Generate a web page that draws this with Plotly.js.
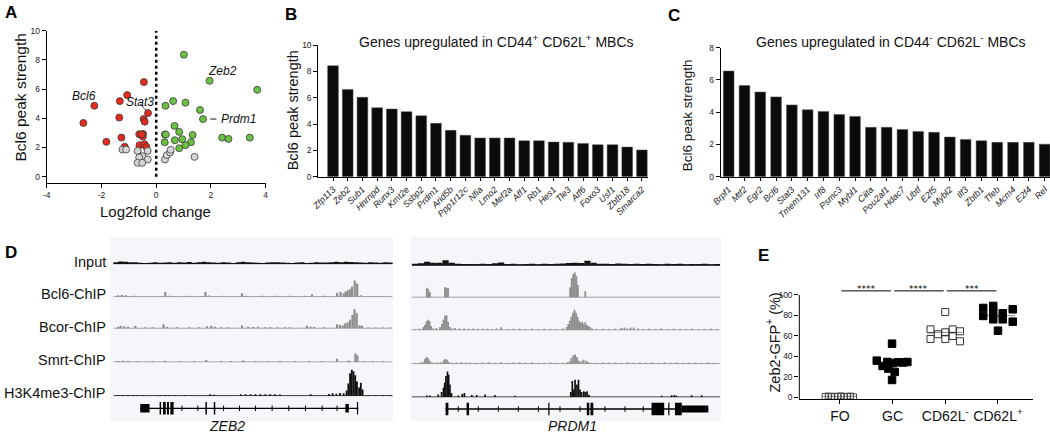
<!DOCTYPE html>
<html><head><meta charset="utf-8">
<script src="https://cdn.plot.ly/plotly-3.0.1.min.js"></script>
<style>html,body{margin:0;padding:0;background:#fff;}#chart{width:1050px;height:437px;}</style>
</head><body><div id="chart"></div>
<script>
// ---------- Panel A data ----------
const redX = [-2.66,-2.26,-1.82,-1.33,-1.35,-1.27,-1.06,-1.15,-0.45,-0.30,-0.46,-0.42,-0.62,-0.48,-0.49,-0.61,-0.43,-0.36,-0.53];
const redY = [3.68,4.86,2.39,5.18,4.05,2.68,5.59,2.05,6.48,4.36,3.95,3.77,2.91,2.93,2.75,2.16,2.23,2.05,2.90];
const greenX = [1.01,1.95,3.69,0.34,0.62,1.07,1.60,1.71,0.67,0.84,0.32,0.35,0.31,0.68,0.95,1.33,1.27,1.07,0.84,2.41,2.64,3.42];
const greenY = [8.36,6.57,5.95,4.86,5.18,5.07,4.57,3.95,3.48,3.07,2.89,2.89,2.36,2.50,2.57,2.86,2.36,2.16,1.95,2.68,2.59,2.68];
const greyX = [-1.23,-1.10,-0.68,-0.31,-0.50,-0.62,-0.31,-0.68,-0.51,0.32,0.39,0.51,0.53,1.40];
const greyY = [1.86,1.86,1.77,1.77,1.41,1.32,1.18,0.95,0.95,1.18,1.48,1.66,1.84,1.36];
const aXTicks = [-4,-2,0,2,4];
const aXTickText = ['-4','-2','0','2','4'];
const aYTicks = [0,2,4,6,8,10];
const aLabels = ['Bcl6','Stat3','Zeb2','Prdm1'];
const aLabelX = [-2.65,-0.58,2.44,2.28];
const aLabelY = [5.53,5.14,7.26,3.95];

// ---------- Panel B data ----------
const bGenes = ['Zfp113','Zeb2','Sub1','Hnrnpd','Runx3','Kmt2e','Ssbp2','Prdm1','Arid5b','Ppp1r12c','Nfia','Lmo2','Mef2a','Aff1','Rb1','Hes1','Tle3','Atf6','Foxo3','Usf1','Zbtb18','Smarca2'];
const bVals = [8.43,6.63,6.03,5.24,5.14,4.94,4.63,4.05,3.52,3.14,2.94,2.94,2.94,2.73,2.73,2.63,2.61,2.53,2.43,2.43,2.25,2.03];

// ---------- Panel C data ----------
const cGenes = ['Brpf1','Mtf2','Egr2','Bcl6','Stat3','Tmem131','Irf8','Psmc3','Mybl1','Ciita','Pou2af1','Hdac7','Ubtf','E2f5','Mybl2','Ilf3','Zbtb1','Tfeb','Mcm4','E2f4','Rel'];
const cVals = [6.55,5.65,5.25,4.95,4.45,4.15,4.05,3.86,3.74,3.06,3.06,2.93,2.81,2.75,2.46,2.31,2.23,2.13,2.13,2.13,2.02];

// ---------- Panel D data (coverage tracks) ----------
const trackNames = ['Input','Bcl6-ChIP','Bcor-ChIP','Smrt-ChIP','H3K4me3-ChIP'];
const zebInput = [1.5,2.2,1.8,1.5,1.4,1.0,0.3,1.0,1.4,1.0,1.2,1.5,1.0,1.4,1.2,1.6,1.0,1.5,1.8,1.4,1.2,1.0,1.4,1.2,0.3,1.5,1.8,1.5,1.2,1.0,0.3,1.2,1.5,1.4,1.2,1.0,0.3,1.2,1.5,0.3,1.0,1.4,1.2,1.2,1.5,1.8,1.5,2.0,1.6,1.5,1.2,1.0,1.4,1.2,1.0,1.3,1.1];
const zebBcl6Pos = [2,3.5,5,8.5,21.2,23,30,37.6,39,45,52.5,54,61,66,72,78,81.1,86,91.3,92.7,94,94.8,95.6,96.5,97.4,98.5,99.5,101,105,109];
const zebBcl6Val = [1.5,1.7,1.5,1,4.7,1,1,4.5,1.2,1,3.3,1,1,1,1,1,2.5,1,4,4.7,3.3,5,6,7.3,10,16,13,1.5,0.8,0.8];
const zebBcorPos = [2,3,4.5,6,9,13,16,20.5,22,26,31,35,38.2,40,41.5,44,47,52.5,55,57,59,62,64,67,70,72,79,80.5,82,86,91.3,92.5,93.6,94.6,95.6,96.6,97.6,98.4,99.3,100.5,101.5,104,107,110,113];
const zebBcorVal = [1.5,2.5,2,1.5,2.5,1,1,4,1.5,1,1,1,2,2.5,1.5,1,1,2.7,1.5,1.2,1.5,1,1,1,1,1,2.5,1.5,1.2,1,4,3.3,2.7,4.7,6,8.3,13,18.7,15,3,2.5,0.8,0.8,0.8,0.8];
const zebSmrtPos = [2,4,6,10,16,21,27,33,37.9,44,48,53,58,63,68,74,80,85,91.3,96,98.8,99.6,102,106,110];
const zebSmrtVal = [1,1.2,1,1,1,1.2,1,1,2,1,1,1.5,1,1,1,1,1,1,3.3,1.5,8.3,6.5,0.7,0.7,0.7];
const zebK4Pos = [2,4,6,8,10,12,19,21,23,25,29,39.5,41,52,54,56,58,60,62,64,66,68,80.5,88,89.5,91,92.5,94,95.2,95.9,96.6,97.3,98.0,98.7,99.4,100.3,101,101.7,104,107,110,113];
const zebK4Val = [0.7,0.7,0.7,0.7,0.7,0.7,0.7,0.7,0.7,0.7,0.7,1.3,1,1.3,1.3,1.3,1.3,1.3,1.3,1.3,1.3,1.2,1.3,1.7,2.3,2,2.7,2.3,5,12,22,25.5,24,20,14,8,12.7,6,0.7,0.7,0.7,0.7];

const prdInput = [1.5,2.0,3.5,2.5,2.5,5.0,2.5,1.5,1.2,1.2,1.2,1.5,1.2,2.0,2.7,1.2,1.5,1.0,1.2,1.5,1.0,1.5,1.2,1.5,1.8,2.2,2.5,2.2,4.5,2.5,1.5,1.5,1.2,1.8,1.5,1.2,1.5,1.2,1.5,1.2,1.0,1.5,1.2,1.5,1.0,1.2,1.2,1.5,1.0,1.2];
const prdBcl6Pos = [4.9,5.4,5.9,10.8,11.3,11.8,51.4,51.9,52.4,52.9,53.4,53.9,56.3];
const prdBcl6Val = [9.3,8,5,10,9.5,9,10,19,23,24.5,21,12,6];
const prdBcorPos = [1,2.5,3.8,4.3,4.8,5.3,5.8,6.3,7,8,9.2,9.8,10.3,10.8,11.3,11.8,12.3,13,14,15.5,17,18.5,20,21.5,23,24.5,26,27.5,29,31,33,35,37,39,41,43,45,47,49,50.3,50.8,51.3,51.8,52.3,52.8,53.3,53.8,54.3,54.8,55.3,55.8,56.3,56.8,57.3,57.8,58.5,60,62,64,66,68,69,70,71,72,73.5,75,77,79,81,83,85,87,89,91,93,95,97,99];
const prdBcorVal = [0.7,1.3,3,5,8,10,8.5,4,1.5,2,3,6,10,14,14.5,8,3,1.5,2,1.5,1.5,1.3,1.5,1.2,1.3,1.2,1,1.5,2.7,1,1.2,1.5,1,1.2,1,1.2,1,1,1.5,3,6,9,13,17,20,17,13,9,7,8,6,7.5,5,4,3,1.5,1,1.2,1,1.2,2,2.5,1.5,2.5,2.5,1.5,1,1.2,1,1.5,1,1.2,1,1,1.2,1,1,1.2,1];
const prdSmrtPos = [1,2.5,3.5,4.3,4.8,5.3,5.8,6.5,7.5,8.5,9.5,10.4,10.9,11.4,11.9,13,14.5,16,17.5,19,21,23,25,27,29,31,33,35,37,39,41,43,45,47,49,50.5,51.2,51.8,52.4,53,53.6,54.2,55,55.7,56.5,57.2,58,60,62,64,66,68,70,72,74,76,78,80,82,84,86,88,90,92,94,96,98];
const prdSmrtVal = [0.7,1,2,4.5,6.7,5.5,3,1.5,1,1.2,1.5,3.5,4.7,4,2,1,1.2,1.5,1,1.2,1,1.2,1.5,1,1.5,1,1.2,1.5,1,1.2,1,1,1.2,1,1,1.5,2.3,5.7,8,9,6.3,3,2.5,4,3,2,1,1,1.2,1,1.2,1,1.5,1,1.2,1,1.2,1,1.5,1,1.2,1,1,1.2,1,1.2,1];
const prdK4Pos = [4.9,5.9,8.6,9.7,10.3,10.7,11.1,11.6,12.0,12.4,12.9,15.1,16.4,17.1,19.5,21.1,23.8,27,33.5,51.6,52.1,52.6,53.0,53.6,54.1,54.6,55.1,55.8,56.3,56.9,57.5,81.1,84.3,85.2,85.9,90.8,94.1];
const prdK4Val = [1.5,1.5,2.5,5,9,14,20.7,25,22,12.3,4,1.5,3,4,2,2,2.5,2,1.3,5,15.7,7.3,17,12.3,17,7.3,5,5.7,5,5.7,2.3,1.3,1.7,2,1.3,1.7,1.7];

// gene models
const zebGene = [11.0,100];
const zebExonStart = [11.0,18.9,20.3,21.9,23.3,37.6,41.0,94.7,99.4];
const zebExonEnd   = [14.8,19.5,21.4,22.7,24.6,38.2,41.6,96.1,99.9];
const zebExonTall  = [0,1,1,1,1,1,1,0,1];
const zebIntron = [28,34.5,45,51.5,58,64.8,71.6,78.4,85.2,91.3];
const prdGene = [11.0,96.2];
const prdExonStart = [11.0,17.8,44.3,56.8,58.0,77.8,83.2,85.4,87.6];
const prdExonEnd   = [11.9,18.6,44.7,57.6,58.9,81.9,83.6,87.6,96.2];
const prdExonTall  = [1,1,1,1,1,1,1,1,0];
const prdIntron = [15.1,21.6,28.1,34.6,41.1,48.1,54.6,62.7,69.2,75.1];
const geneNames = ['ZEB2','PRDM1'];

// ---------- Panel E data ----------
const eLabels = ['FO','GC','CD62L<sup>-</sup>','CD62L<sup>+</sup>'];
const foJit = [-0.28,-0.22,-0.16,-0.10,-0.04,0.02,0.08,0.14,0.20,0.26];
const foVal = [0.8,1.2,0.5,1.0,0.7,1.3,0.6,0.9,1.1,0.4];
const gcJit = [-0.01,-0.30,-0.19,-0.08,0.04,-0.01,-0.10,0.0,0.10,0.20,0.28];
const gcVal = [52.4,35.8,30.6,28.0,24.8,16.9,34.5,33.5,34.2,34.0,34.5];
const cmJit = [0,-0.28,-0.14,-0.28,0,0,0.14,0.14,0.28,0.28];
const cmVal = [83.4,66.4,61.6,57.0,57.0,63.5,66.4,59.9,64.5,54.7];
const cpJit = [-0.28,-0.09,-0.28,-0.09,-0.09,0.09,0.09,0.28,0.28,0];
const cpVal = [87.3,89.3,79.5,82.7,76.2,82.1,76.2,86.0,73.9,65.1];
const sigPairs = [[0,1],[1,2],[2,3]];
const sigText = ['****','****','***'];

// ---------- helpers ----------
const W=1050,H=437;
const FONT='Liberation Sans, Arial, Helvetica, sans-serif';
const px=(a,b)=>[a/W,b/W];
const py=(t,b)=>[1-b/H,1-t/H];
const PX=x=>x/W, PY=y=>1-y/H;
const traces=[];
function sc(o){traces.push(Object.assign({type:'scatter',hoverinfo:'skip',showlegend:false},o));}
function axStyle(o){return Object.assign({showline:true,linecolor:'#000',linewidth:1,ticks:'outside',ticklen:4,tickwidth:1,tickcolor:'#000',showgrid:false,zeroline:false,tickmode:'array',tickfont:{family:FONT,size:8.5,color:'#222'},fixedrange:true},o);}
function ann(text,x,y,o){return Object.assign({text:text,x:PX(x),y:PY(y),xref:'paper',yref:'paper',showarrow:false,xanchor:'center',yanchor:'middle',font:{family:FONT,size:14,color:'#111'}},o||{});}
const mean=a=>a.reduce((s,v)=>s+v,0)/a.length;

// ---------- Panel A ----------
sc({mode:'lines',x:[0,0],y:[0,10],xaxis:'x',yaxis:'y',line:{color:'#000',width:2.5,dash:'dot'}});
const aLine={color:'#3a3a3a',width:0.8};
sc({mode:'markers',x:redX,y:redY,xaxis:'x',yaxis:'y',marker:{color:'#e52a1e',size:7,line:aLine}});
sc({mode:'markers',x:greenX,y:greenY,xaxis:'x',yaxis:'y',marker:{color:'#6cc043',size:7,line:aLine}});
sc({mode:'markers',x:greyX,y:greyY,xaxis:'x',yaxis:'y',marker:{color:'#d6d6d6',size:7,line:aLine}});

// ---------- Panel B, C ----------
traces.push({type:'bar',x:bGenes,y:bVals,xaxis:'x2',yaxis:'y2',width:0.73,marker:{color:'#0b0b0b',line:{color:'#555',width:0.5}},hoverinfo:'skip',showlegend:false});
traces.push({type:'bar',x:cGenes,y:cVals,xaxis:'x3',yaxis:'y3',width:0.675,marker:{color:'#0b0b0b',line:{color:'#555',width:0.5}},hoverinfo:'skip',showlegend:false});

// ---------- Panel D ----------
const trackColors = ['#111','#8f8f8f','#8f8f8f','#8f8f8f','#111'];
const zebTracks = [
  {x:zebInput.map((v,i)=>i*2+1), y:zebInput, w:2},
  {x:zebBcl6Pos,y:zebBcl6Val,w:0.9},
  {x:zebBcorPos,y:zebBcorVal,w:0.9},
  {x:zebSmrtPos,y:zebSmrtVal,w:0.9},
  {x:zebK4Pos,y:zebK4Val,w:0.75}];
const prdTracks = [
  {x:prdInput.map((v,i)=>i*2+1), y:prdInput, w:2},
  {x:prdBcl6Pos,y:prdBcl6Val,w:0.6},
  {x:prdBcorPos,y:prdBcorVal,w:0.6},
  {x:prdSmrtPos,y:prdSmrtVal,w:0.6},
  {x:prdK4Pos,y:prdK4Val,w:0.55}];
const zebBase=[263.7,296.7,328.3,362,395.7];
const prdBase=[265.3,297.3,330,363.7,397];
const layoutAxes={};
function addLocus(tracks,xa,yStart,base,xmax,geneAx,geneY){
  tracks.forEach((t,i)=>{
    const yId='y'+(yStart+i);
    layoutAxes['yaxis'+(yStart+i)]={domain:py(base[i]-30.5,base[i]+0.5),range:[-0.5,30],anchor:xa,visible:false,fixedrange:true};
    sc({mode:'lines',x:[0,xmax],y:[0,0],xaxis:xa,yaxis:yId,line:{color:trackColors[i],width:i===0?1.4:1.1}});
    traces.push({type:'bar',x:t.x,y:t.y,width:t.w,xaxis:xa,yaxis:yId,marker:{color:trackColors[i],line:{width:0}},hoverinfo:'skip',showlegend:false});
  });
  layoutAxes['yaxis'+geneAx]={domain:py(geneY-10.5,geneY+10.5),range:[-1,1],anchor:xa,visible:false,fixedrange:true};
}
addLocus(zebTracks,'x5',5,zebBase,114,10,408.3);
addLocus(prdTracks,'x6',11,prdBase,100,16,409);

const shapes=[];
shapes.push({type:'rect',xref:'paper',yref:'paper',x0:PX(110),x1:PX(393),y0:PY(421),y1:PY(237),fillcolor:'#f5f6f9',line:{width:0},layer:'below'});
shapes.push({type:'rect',xref:'paper',yref:'paper',x0:PX(410),x1:PX(721),y0:PY(421),y1:PY(237),fillcolor:'#f5f6f9',line:{width:0},layer:'below'});

function geneModel(xa,ya,gene,st,en,tall,introns,halfU){
  sc({mode:'lines',x:gene,y:[0,0],xaxis:xa,yaxis:ya,line:{color:'#000',width:1.3}});
  sc({mode:'markers',x:introns,y:introns.map(()=>0),xaxis:xa,yaxis:ya,marker:{symbol:'line-ns-open',size:4,color:'#000',line:{width:1,color:'#000'}}});
  st.forEach((s,i)=>{
    const h = tall[i]?0.6:halfU;
    shapes.push({type:'rect',xref:xa,yref:ya,x0:s,x1:en[i],y0:-h,y1:h,fillcolor:'#000',line:{width:0}});
  });
}
geneModel('x5','y10',zebGene,zebExonStart,zebExonEnd,zebExonTall,zebIntron,0.4);
geneModel('x6','y16',prdGene,prdExonStart,prdExonEnd,prdExonTall,prdIntron,0.33);

// ---------- Panel E ----------
const groups=[{j:foJit,v:foVal,sym:'square-open',col:'#444',size:6},
              {j:gcJit,v:gcVal,sym:'square',col:'#000',size:7.5},
              {j:cmJit,v:cmVal,sym:'square-open',col:'#333',size:7},
              {j:cpJit,v:cpVal,sym:'square',col:'#000',size:7.5}];
groups.forEach((g,i)=>{
  const m=mean(g.v);
  sc({mode:'lines',x:[i-0.32,i+0.32],y:[m,m],xaxis:'x4',yaxis:'y4',line:{color:'#8a8a8a',width:1}});
});
groups.forEach((g,i)=>{
  sc({mode:'markers',x:g.j.map(d=>i+d),y:g.v,xaxis:'x4',yaxis:'y4',marker:{symbol:g.sym,size:g.size,color:g.col,line:{width:1,color:g.col}}});
});
sigPairs.forEach(p=>{
  sc({mode:'lines',x:[p[0]+0.03,p[1]-0.03],y:[104,104],xaxis:'x4',yaxis:'y4',line:{color:'#000',width:1}});
});
shapes.push({type:'line',xref:'x4 domain',yref:'y4',x0:0,x1:0,y0:-2,y1:100,line:{color:'#000',width:1}});

// ---------- annotations ----------
const annotations=[];
[['A',10.5,12.5],['B',291,14],['C',673.5,16],['D',10.5,252.5],['E',763.5,255]].forEach(l=>{
  annotations.push(ann('<b>'+l[0]+'</b>',l[1],l[2],{font:{family:FONT,size:17,color:'#000'}}));
});
annotations.push(ann('Genes upregulated in CD44<sup>+</sup> CD62L<sup>+</sup> MBCs',496,41,{font:{family:FONT,size:14,color:'#111'}}));
annotations.push(ann('Genes upregulated in CD44<sup>-</sup> CD62L<sup>-</sup> MBCs',891,41,{font:{family:FONT,size:14,color:'#111'}}));
annotations.push(ann('Bcl6 peak strength',20,97.5,{textangle:-90,font:{family:FONT,size:15.5,color:'#111'}}));
annotations.push(ann('Log2fold change',155.7,211.5,{font:{family:FONT,size:15,color:'#111'}}));
annotations.push(ann('Bcl6 peak strength',293.3,110,{textangle:-90,font:{family:FONT,size:14.5,color:'#111'}}));
annotations.push(ann('Bcl6 peak strength',688.3,115,{textangle:-90,font:{family:FONT,size:13.5,color:'#111'}}));
annotations.push(ann('Zeb2-GFP<sup>+</sup> (%)',773,342.5,{textangle:-90,font:{family:FONT,size:14.5,color:'#111'}}));
const labY=[262,294,327,360,393];
trackNames.forEach((n,i)=>annotations.push(ann(n,108.3,labY[i],{xanchor:'right',font:{family:FONT,size:14.5,color:'#111'}})));
annotations.push(ann('<i>'+geneNames[0]+'</i>',226.7,425.5,{font:{family:FONT,size:14,color:'#111'}}));
annotations.push(ann('<i>'+geneNames[1]+'</i>',572,425.5,{font:{family:FONT,size:14,color:'#111'}}));
aLabels.forEach((t,i)=>{
  annotations.push({text:'<i>'+t+'</i>',x:aLabelX[i],y:aLabelY[i],xref:'x',yref:'y',showarrow:false,xanchor:i===3?'left':'center',yanchor:'middle',font:{family:FONT,size:12,color:'#111'}});
});
shapes.push({type:'line',xref:'x',yref:'y',x0:-0.58,y0:4.96,x1:-0.36,y1:4.52,line:{color:'#111',width:0.8}});
shapes.push({type:'line',xref:'x',yref:'y',x0:1.98,y0:3.95,x1:2.2,y1:3.95,line:{color:'#111',width:1}});
sigPairs.forEach((p,i)=>{
  annotations.push({text:sigText[i],x:(p[0]+p[1])/2,y:105.5,xref:'x4',yref:'y4',showarrow:false,xanchor:'center',yanchor:'middle',font:{family:'DejaVu Sans, Liberation Sans, sans-serif',size:9,color:'#000'}});
});

// ---------- layout ----------
const layout=Object.assign({
  width:W,height:H,margin:{l:0,r:0,t:0,b:0},
  paper_bgcolor:'#fff',plot_bgcolor:'rgba(0,0,0,0)',
  showlegend:false,barmode:'overlay',font:{family:FONT,color:'#111'},
  xaxis:axStyle({domain:px(46.7,265.7),range:[-4,4],anchor:'y',tickvals:aXTicks,ticktext:aXTickText}),
  yaxis:axStyle({domain:py(30.7,182.7),range:[-0.41,10],anchor:'x',tickvals:aYTicks}),
  xaxis2:axStyle({domain:px(318.3,647.8),type:'category',range:[-1,21.4],anchor:'y2',tickvals:bGenes,ticktext:bGenes,tickangle:-45,ticklen:3,tickfont:{family:FONT,size:9,color:'#222',style:'italic'}}),
  yaxis2:axStyle({domain:py(45,176.7),range:[0,10],anchor:'x2',tickvals:[0,2,4,6,8,10]}),
  xaxis3:axStyle({domain:px(720.7,1050),type:'category',range:[-0.505,20.34],anchor:'y3',tickvals:cGenes,ticktext:cGenes,tickangle:-45,ticklen:3,tickfont:{family:FONT,size:9,color:'#222',style:'italic'}}),
  yaxis3:axStyle({domain:py(47.7,176.7),range:[0,8],anchor:'x3',tickvals:[0,2,4,6,8]}),
  xaxis4:axStyle({domain:px(799.3,1033.3),range:[-0.77,3.67],anchor:'y4',tickvals:[0,1,2,3],ticktext:eLabels,tickfont:{family:FONT,size:14,color:'#111'}}),
  yaxis4:axStyle({domain:py(282.7,399.3),range:[-2,112],anchor:'x4',showline:false,tickvals:[0,20,40,60,80,100]}),
  xaxis5:{domain:px(113.3,392.7),range:[0,114],anchor:'y10',visible:false,fixedrange:true},
  xaxis6:{domain:px(411.7,720),range:[0,100],anchor:'y16',visible:false,fixedrange:true},
  shapes:shapes,annotations:annotations
},layoutAxes);

Plotly.newPlot('chart',traces,layout,{staticPlot:true,displayModeBar:false});
</script></body></html>
